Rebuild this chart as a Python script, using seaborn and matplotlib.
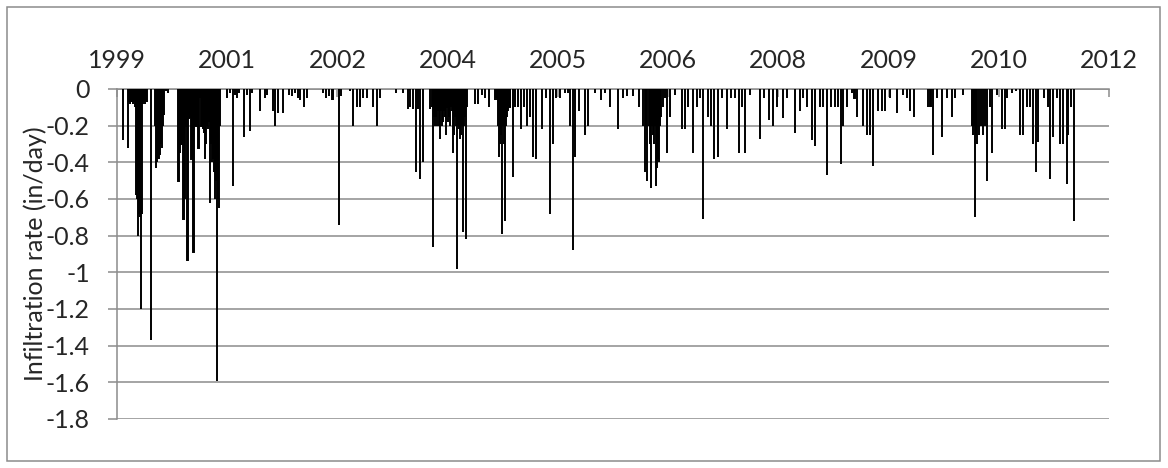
import numpy as np
import pandas as pd
import seaborn as sns
import matplotlib.pyplot as plt
from matplotlib.patches import Rectangle

# daily infiltration, day index counted from the start of the record (axis ticks every 500 days)
days = [27, 50, 54, 59, 64, 68, 73, 77, 82, 86, 91, 95, 100, 104, 109, 113, 118, 122, 127, 132,
        136, 154, 172, 177, 181, 186, 191, 195, 200, 204, 209, 213, 222, 231, 278, 282, 286, 293,
        297, 301, 304, 308, 312, 316, 321, 325, 328, 332, 335, 339, 346, 350, 354, 361, 369, 376,
        384, 390, 395, 399, 404, 408, 413, 417, 422, 426, 431, 435, 440, 445, 449, 454, 458, 463,
        467, 499, 512, 526, 535, 544, 553, 576, 590, 603, 612, 649, 671, 680, 708, 717, 730, 753,
        780, 794, 807, 821, 830, 848, 862, 934, 948, 962, 975, 980, 1007, 1016, 1057, 1071, 1089,
        1102, 1116, 1134, 1161, 1179, 1193, 1266, 1297,
        1320, 1329, 1343, 1356, 1365, 1374, 1388, 1420, 1429, 1433, 1438, 1442, 1447, 1452, 1456,
        1461, 1465, 1470, 1474, 1479, 1484, 1488, 1492, 1495, 1501, 1506, 1510, 1515, 1519, 1524,
        1528, 1533, 1538, 1542, 1547, 1551, 1556, 1560, 1565, 1569, 1574, 1578, 1583,
        1588, 1624, 1637, 1656, 1669, 1687, 1715, 1720, 1724, 1729, 1733, 1737, 1742, 1746, 1751,
        1755, 1760, 1765, 1769, 1774, 1779, 1783, 1796,
        1805, 1819, 1833, 1846, 1860, 1873, 1887, 1901, 1928, 1946, 1964, 1978, 1991,
        2009, 2032, 2046, 2055, 2068, 2077, 2096, 2123, 2136, 2168, 2195, 2214, 2236, 2273, 2295,
        2313, 2341, 2368, 2386, 2395, 2400, 2404, 2413, 2418, 2422, 2427, 2431, 2436, 2440, 2445,
        2449, 2454, 2459, 2463, 2468, 2477, 2486, 2495, 2508, 2531, 2563, 2576, 2590, 2613, 2631,
        2645, 2658, 2681, 2694, 2708, 2726, 2744, 2767, 2785, 2803, 2821, 2835, 2849, 2871, 2917,
        2935, 2957, 2976, 2994, 3021, 3039, 3075,
        3098, 3112, 3130, 3153, 3166, 3189, 3202, 3221, 3239, 3257, 3270, 3284, 3293, 3311, 3334,
        3345, 3357, 3384, 3402, 3416, 3429, 3452, 3470, 3484, 3506, 3538, 3565, 3583, 3597, 3615,
        3679, 3688, 3692, 3701, 3720, 3742, 3765, 3788, 3801, 3837, 3878, 3883, 3887, 3892, 3896,
        3901, 3910, 3919, 3928, 3937, 3946, 3960, 3969, 3992, 4014, 4028, 4037, 4060, 4078, 4096,
        4110, 4128, 4141, 4155, 4169, 4178, 4205, 4223, 4232, 4246, 4264, 4277, 4291, 4309, 4314,
        4327, 4341]

rate = [-0.28, -0.32, -0.07, -0.08, -0.07, -0.07, -0.08, -0.07, -0.10, -0.58, -0.60, -0.80, -0.68,
        -0.70, -1.20, -0.68, -0.08, -0.07, -0.08, -0.07, -0.07, -1.37, -0.20, -0.43, -0.40, -0.38,
        -0.38, -0.36, -0.30, -0.32, -0.20, -0.14, -0.01, -0.02, -0.50, -0.30, -0.35, -0.30, -0.20,
        -0.71, -0.25, -0.60, -0.16, -0.20, -0.93, -0.16, -0.15, -0.10, -0.16, -0.38, -0.89, -0.20,
        -0.20, -0.20, -0.32, -0.05, -0.20, -0.22, -0.24, -0.38, -0.30, -0.20, -0.22, -0.18, -0.62,
        -0.30, -0.40, -0.38, -0.45, -0.60, -0.50, -1.59, -0.60, -0.65, -0.20, -0.05, -0.02, -0.53,
        -0.03, -0.05, -0.02, -0.26, -0.03, -0.23, -0.02, -0.12, -0.05, -0.03, -0.12, -0.20, -0.13,
        -0.13, -0.03, -0.04, -0.02, -0.05, -0.06, -0.10, -0.05, -0.02, -0.05, -0.04, -0.06, -0.06,
        -0.74, -0.04, -0.01, -0.20, -0.10, -0.10, -0.05, -0.05, -0.10, -0.20, -0.05, -0.02, -0.02,
        -0.11, -0.10, -0.11, -0.45, -0.11, -0.49, -0.40, -0.11, -0.10, -0.86, -0.15, -0.20, -0.15,
        -0.20, -0.12, -0.20, -0.27, -0.12, -0.20, -0.18, -0.12, -0.15, -0.25, -0.10, -0.18, -0.15,
        -0.20, -0.10, -0.12, -0.35, -0.25, -0.15, -0.20, -0.98, -0.20, -0.22, -0.27, -0.25, -0.20,
        -0.78, -0.20, -0.15, -0.82,
        -0.10, -0.08, -0.08, -0.03, -0.05, -0.10, -0.06, -0.05, -0.06, -0.20, -0.37, -0.30, -0.25,
        -0.79, -0.20, -0.30, -0.72, -0.20, -0.15, -0.12, -0.10, -0.10, -0.48,
        -0.10, -0.10, -0.22, -0.10, -0.20, -0.15, -0.37, -0.38, -0.22, -0.05, -0.68, -0.30, -0.05,
        -0.05, -0.02, -0.02, -0.20, -0.88, -0.37, -0.12, -0.25, -0.20, -0.02, -0.06, -0.02, -0.10,
        -0.22, -0.05, -0.04, -0.04, -0.10, -0.20, -0.45, -0.20, -0.50, -0.20, -0.30, -0.54, -0.20,
        -0.25, -0.30, -0.20, -0.53, -0.43, -0.38, -0.40, -0.20, -0.15, -0.10, -0.05, -0.35, -0.15,
        -0.03, -0.22, -0.22, -0.10, -0.35, -0.10, -0.05, -0.71, -0.15, -0.20, -0.38, -0.37, -0.05,
        -0.22, -0.05, -0.05, -0.35, -0.10, -0.35, -0.03, -0.27, -0.05, -0.17, -0.20, -0.10, -0.16,
        -0.05, -0.24,
        -0.12, -0.05, -0.10, -0.28, -0.31, -0.10, -0.10, -0.47, -0.10, -0.10, -0.10, -0.41, -0.20,
        -0.10, -0.02, -0.05, -0.15, -0.20, -0.25, -0.25, -0.42, -0.12, -0.12, -0.12, -0.05, -0.13,
        -0.03, -0.05, -0.12, -0.15, -0.10, -0.10, -0.10, -0.36, -0.05, -0.26, -0.05, -0.15, -0.05,
        -0.03, -0.20, -0.25, -0.20, -0.70, -0.25, -0.30, -0.25, -0.20, -0.25, -0.20, -0.50, -0.10,
        -0.35, -0.03, -0.22, -0.22, -0.05, -0.02, -0.01, -0.25, -0.25, -0.10, -0.10, -0.30, -0.45,
        -0.29, -0.05, -0.10, -0.49, -0.26, -0.05, -0.30, -0.30, -0.52, -0.25, -0.10, -0.72]

tick_days = [0, 500, 1000, 1500, 2000, 2500, 3000, 3500, 4000, 4500]
tick_labels = ["1999", "2001", "2002", "2004", "2005", "2006", "2008", "2009", "2010", "2012"]
y_ticks = [0, -0.2, -0.4, -0.6, -0.8, -1.0, -1.2, -1.4, -1.6, -1.8]
y_labels = ["0", "-0.2", "-0.4", "-0.6", "-0.8", "-1", "-1.2", "-1.4", "-1.6", "-1.8"]

df = pd.DataFrame({"day": days, "rate": rate})

sns.set_theme(style="white")
plt.rcParams["font.family"] = ["Lato", "DejaVu Sans"]
plt.rcParams["axes.unicode_minus"] = False

grey = "#8c8c8c"
fs = 18
fig = plt.figure(figsize=(11.68, 4.68), dpi=100)
ax = fig.add_axes([117 / 1168, 1 - 419 / 468, 992 / 1168, 330 / 468])

sns.barplot(data=df, x="day", y="rate", native_scale=True, orient="x", color="black",
            width=1.0, errorbar=None, edgecolor="black", linewidth=1.4, saturation=1, ax=ax, zorder=3)

ax.set_xlim(0, 4500)
ax.set_ylim(-1.8, 0)
ax.set_yticks(y_ticks)
ax.set_yticklabels(y_labels)
ax.set_xticks(tick_days)
ax.set_xticklabels(tick_labels)
ax.xaxis.tick_top()
ax.tick_params(axis="x", direction="in", length=6, width=1.1, color=grey, pad=12.5, labelsize=fs)
ax.tick_params(axis="y", direction="out", length=6.5, width=1.1, color=grey, pad=13, labelsize=fs, left=True)
ax.grid(axis="y", color=grey, linewidth=1.1, zorder=0)
ax.grid(axis="x", visible=False)
for side in ["right", "bottom"]:
    ax.spines[side].set_visible(False)
for side in ["left", "top"]:
    ax.spines[side].set_color(grey)
    ax.spines[side].set_linewidth(1.1)

ax.set_xlabel("")
ax.set_ylabel("Infiltration rate (in/day)", fontsize=fs)
ax.yaxis.set_label_coords(-0.071, 0.5)

# chart-area border
fig.patches.append(Rectangle((7 / 1168, 1 - 461 / 468), 1153 / 1168, 454 / 468,
                             transform=fig.transFigure, fill=False, edgecolor=grey, linewidth=1.1))

fig.savefig("out.png", dpi=100)
